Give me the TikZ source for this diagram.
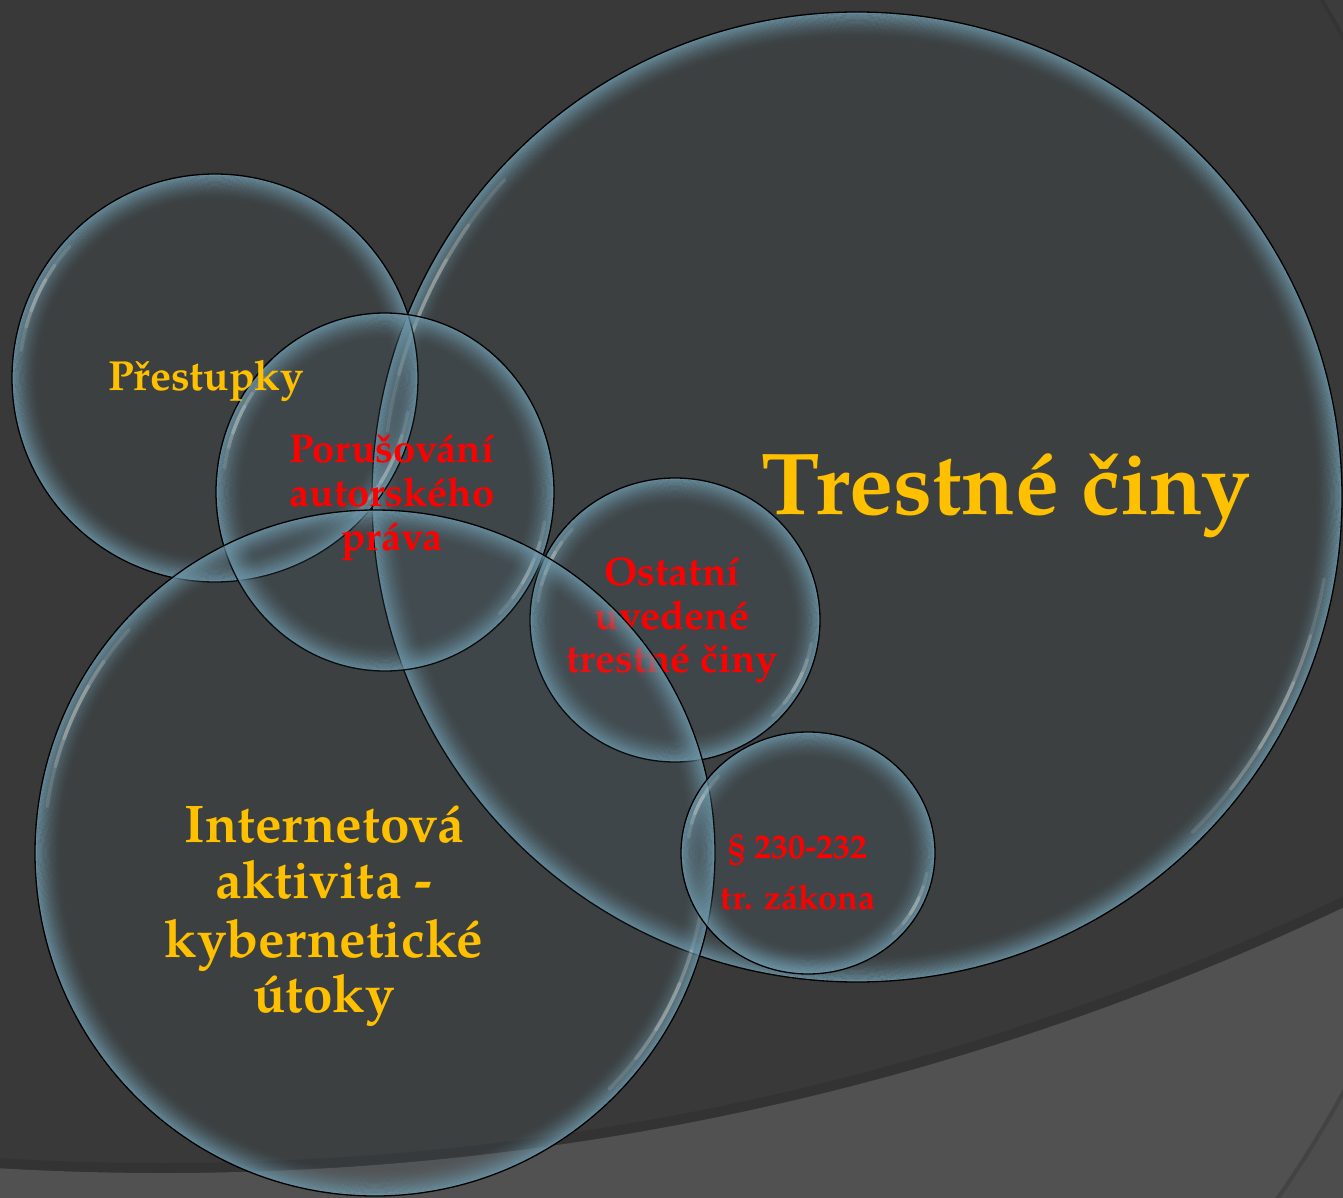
\documentclass[tikz,border=0pt]{standalone}
\usepackage{fontspec}
\newfontfamily\pal{texgyrepagella-bold.otf}
\definecolor{bgdark}{RGB}{57,57,57}
\definecolor{bglight}{RGB}{81,81,81}
\definecolor{ringtone}{RGB}{68,68,68}
\definecolor{rimcol}{RGB}{108,150,168}
\definecolor{bubtint}{RGB}{100,135,155}
\definecolor{hilite}{RGB}{235,232,225}
\definecolor{goldtxt}{RGB}{255,192,0}
\definecolor{redtxt}{RGB}{255,0,0}
\tikzset{
  bubfill/.style={fill=bubtint, fill opacity=0.09},
  bubline/.style={draw=black, line width=1.3pt},
  rimring/.style={draw=rimcol, line width=1.8pt},
  hiarc/.style={draw=hilite, line width=3.5pt, line cap=round},
  maintxt/.style={anchor=base, inner sep=0pt},
}
% bubble: name, cx, cy, rx, ry
\newcommand\bubble[5]{%
  \fill[bubfill] (#2,#3) ellipse [x radius=#4pt, y radius=#5pt];
  \foreach \k in {0,...,15}{%
    \pgfmathsetmacro\op{0.82*(1-\k/16)^1.8}
    \pgfmathsetmacro\rxx{#4-0.9-1.7*\k}
    \pgfmathsetmacro\ryy{#5-0.9-1.7*\k}
    \draw[rimring, draw opacity=\op] (#2,#3) ellipse [x radius=\rxx pt, y radius=\ryy pt];
  }
  \pgfmathsetmacro\hx{#4-5-0.012*#4}
  \pgfmathsetmacro\hy{#5-5-0.012*#5}
  \begin{scope}[shift={(#2,#3)}]
    \draw[hiarc, draw opacity=0.13] (138:\hx pt and \hy pt) arc[start angle=138, end angle=172, x radius=\hx pt, y radius=\hy pt];
    \draw[hiarc, draw opacity=0.16] (145:\hx pt and \hy pt) arc[start angle=145, end angle=165, x radius=\hx pt, y radius=\hy pt];
    \draw[hiarc, draw opacity=0.20] (150:\hx pt and \hy pt) arc[start angle=150, end angle=160, x radius=\hx pt, y radius=\hy pt];
    \draw[hiarc, draw opacity=0.13] (-45:\hx pt and \hy pt) arc[start angle=-45, end angle=-10, x radius=\hx pt, y radius=\hy pt];
    \draw[hiarc, draw opacity=0.16] (-38:\hx pt and \hy pt) arc[start angle=-38, end angle=-17, x radius=\hx pt, y radius=\hy pt];
    \draw[hiarc, draw opacity=0.20] (-32:\hx pt and \hy pt) arc[start angle=-32, end angle=-23, x radius=\hx pt, y radius=\hy pt];
  \end{scope}
  \draw[bubline] (#2,#3) ellipse [x radius=#4pt, y radius=#5pt];
  \coordinate (#1) at (#2,#3);
}
% text line: name, x, y, size, colour, text
\newcommand\txtline[6]{%
  \node[maintxt, text=#5] (#1) at (#2,#3) {\pal\fontsize{#4}{#4}\selectfont #6};
}
\begin{document}
\begin{tikzpicture}[x=1pt, y=-1pt]
\useasboundingbox (0,0) rectangle (1343,1198);
% background
\fill[bgdark] (0,0) rectangle (1343,1198);
\begin{scope}
  \clip (0,0) rectangle (1343,1198);
  \fill[bglight, even odd rule] (-20,-20) rectangle (1363,1218) (163,-1577) circle [radius=2750pt];
  \draw[black, draw opacity=0.10, line width=10pt] (163,-1577) circle [radius=2745pt];
  \fill[ringtone, fill opacity=0.3, even odd rule] (-20,-20) rectangle (1363,1218) (372,565) circle [radius=1103pt];
  \draw[black, draw opacity=0.12, line width=4pt] (372,565) circle [radius=1105pt];
\end{scope}
% bubbles
\bubble{bT}{857}{497}{485}{485}
\bubble{bP}{215}{378}{203}{204}
\bubble{bA}{385}{492}{169}{179}
\bubble{bO}{675}{620}{145}{142}
\txtline{o1}{672}{585}{40}{redtxt}{Ostatní}
\txtline{o2}{672}{629}{40}{redtxt}{uvedené}
\txtline{o3}{672}{672}{40}{redtxt}{trestné činy}
\bubble{bI}{375}{853}{340}{343}
\bubble{bS}{808}{853}{127}{121}
% texts
\txtline{t1}{1006}{514}{88}{goldtxt}{Trestné činy}
\txtline{p1}{206}{390}{42}{goldtxt}{Přestupky}
\txtline{a1}{392}{462}{40}{redtxt}{Porušování}
\txtline{a2}{392}{506}{40}{redtxt}{autorského}
\txtline{a3}{392}{550}{40}{redtxt}{práva}
\txtline{s1}{798}{858}{34}{redtxt}{§ 230-232}
\txtline{s2}{798}{909}{34}{redtxt}{tr. zákona}
\txtline{i1}{324}{842}{53}{goldtxt}{Internetová}
\txtline{i2}{324}{898}{53}{goldtxt}{aktivita -}
\txtline{i3}{324}{957}{53}{goldtxt}{kybernetické}
\txtline{i4}{324}{1012}{53}{goldtxt}{útoky}
\end{tikzpicture}
\end{document}
